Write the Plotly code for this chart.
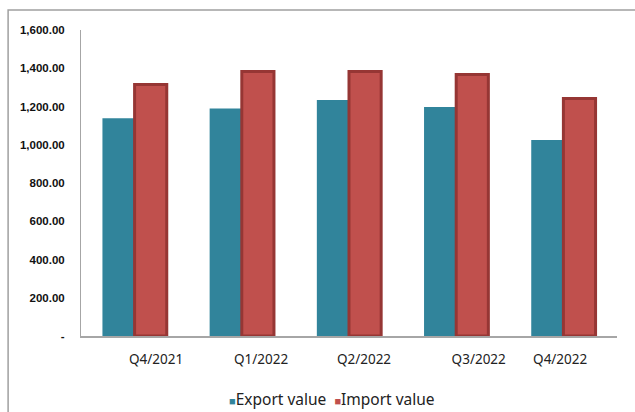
import plotly.graph_objects as go

# Quarterly trade values
quarters = ["Q4/2021", "Q1/2022", "Q2/2022", "Q3/2022", "Q4/2022"]
export_value = [1138, 1190, 1234, 1197, 1025]
import_value = [1315, 1383, 1383, 1367, 1242]

y_tick_vals = [0, 200, 400, 600, 800, 1000, 1200, 1400, 1600]
y_tick_text = ["-", "200.00", "400.00", "600.00", "800.00",
               "1,000.00", "1,200.00", "1,400.00", "1,600.00"]

series_names = ["Export value", "Import value"]
series_colors = ["#31849B", "#C0504D"]

# category label nudges (in category units)
label_nudge = [0.2, 0.18, 0.14, 0.21, -0.03]

x_idx = list(range(len(quarters)))

fig = go.Figure()
fig.add_trace(go.Bar(
    x=x_idx, y=export_value, name=series_names[0],
    marker=dict(color=series_colors[0], line=dict(width=0)),
))
fig.add_trace(go.Bar(
    x=x_idx, y=import_value, name=series_names[1],
    marker=dict(color=series_colors[1], line=dict(color="#963634", width=3)),
))

fig.update_layout(
    width=635, height=412,
    margin=dict(l=81, r=18, t=30, b=76),
    paper_bgcolor="white", plot_bgcolor="white",
    barmode="group", bargap=0.4, bargroupgap=0,
    showlegend=False,
    xaxis=dict(
        range=[-0.5, len(quarters) - 0.5],
        tickvals=[i + d for i, d in zip(x_idx, label_nudge)],
        ticktext=quarters,
        showline=True, linecolor="#A6A6A6", linewidth=1.5,
        ticks="", showgrid=False, zeroline=False,
        tickfont=dict(family="Noto Sans", size=13.5, color="#222222"),
        ticklabelstandoff=10,
        automargin=False,
    ),
    yaxis=dict(
        range=[0, 1600],
        tickvals=y_tick_vals, ticktext=y_tick_text,
        showline=True, linecolor="#A6A6A6", linewidth=1,
        ticks="", showgrid=False, zeroline=False,
        tickfont=dict(family="Liberation Sans", size=11.5, color="#111111",
                      weight="bold"),
        ticklabelstandoff=13,
        automargin=False,
    ),
)

# legend line: small coloured squares followed by the series names
legend_text = "&nbsp;&nbsp;".join(
    f"<span style='color:{c};font-size:11px'>■</span>{n}"
    for n, c in zip(series_names, series_colors)
)
fig.add_annotation(
    xref="paper", yref="paper", x=0.469, y=-0.205, xanchor="center", yanchor="middle",
    text=legend_text, showarrow=False,
    font=dict(family="Noto Sans", size=15.5, color="#222222"),
)

# outer chart frame
fig.add_shape(type="rect", xref="paper", yref="paper",
              x0=-0.136, y0=-0.5, x1=1.2, y1=1.065,
              line=dict(color="#A0A0A0", width=1.5), fillcolor="rgba(0,0,0,0)",
              layer="below")

fig.write_html("out.html")
